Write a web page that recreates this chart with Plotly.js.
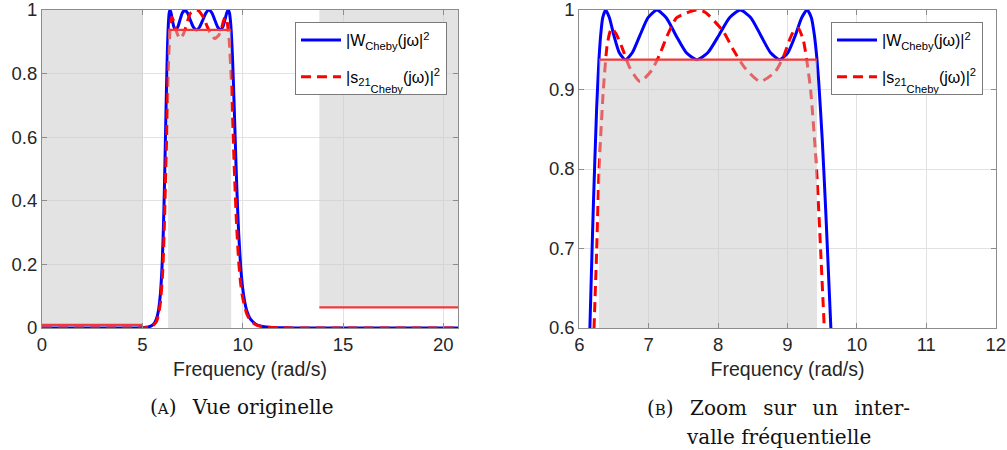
<!DOCTYPE html>
<html>
<head>
<meta charset="utf-8">
<script src="https://cdn.plot.ly/plotly-3.0.1.min.js"></script>
<style>
html,body{margin:0;padding:0;background:#fff;}
#chart{width:1007px;height:450px;}
</style>
</head>
<body>
<div id="chart"></div>
<script>
// ---- data ----
const omegaCheby = [0, 3, 4, 4.5, 5.0, 5.3, 5.5, 5.6, 5.7, 5.8, 5.9, 5.95, 6.0, 6.05, 6.1, 6.15, 6.2, 6.25,
  6.2832, 6.2893, 6.3074, 6.3376, 6.3797, 6.4337, 6.4993, 6.5763, 6.6644, 6.7631, 6.8719, 6.9904,
  7.1176, 7.2528, 7.3950, 7.5429, 7.6953, 7.8508, 8.0079, 8.1648, 8.3199, 8.4713, 8.6173, 8.7561,
  8.8858, 9.0048, 9.1114, 9.2043, 9.2821, 9.3439, 9.3886, 9.4157, 9.4248,
  9.45, 9.5, 9.55, 9.6, 9.65, 9.7, 9.75, 9.8, 9.9, 10.0, 10.1, 10.2, 10.4, 10.7, 11, 11.5, 12, 13, 14, 20.73];
const gainCheby = [0, 0, 0.00001, 0.0001, 0.0007, 0.003, 0.0085, 0.0151, 0.0279, 0.0534, 0.1071, 0.1535, 0.2208, 0.3152, 0.4405, 0.5928, 0.7467, 0.8766,
  0.9375, 0.9462, 0.9677, 0.9903, 1.0, 0.9903, 0.9677, 0.9462, 0.9375, 0.9462, 0.9677, 0.9903,
  1.0, 0.9903, 0.9677, 0.9462, 0.9375, 0.9462, 0.9677, 0.9903, 1.0, 0.9903, 0.9677, 0.9462,
  0.9375, 0.9462, 0.9677, 0.9903, 1.0, 0.9903, 0.9677, 0.9462, 0.9375,
  0.9096, 0.8382, 0.7491, 0.6499, 0.5492, 0.4545, 0.3706, 0.2994, 0.1932, 0.1252, 0.0825, 0.0555, 0.0268, 0.0104, 0.0046, 0.0014, 0.00055, 0.0001, 0, 0];

const omegaS21 = [0, 4, 4.5, 5.0, 5.3, 5.5, 5.7, 5.8, 5.9, 6.0, 6.05, 6.1, 6.15, 6.212, 6.25, 6.284, 6.346,
  6.40, 6.44, 6.467, 6.53, 6.611, 6.73, 6.875, 7.043, 7.163, 7.259, 7.40, 7.595, 7.69, 7.797, 7.859,
  8.075, 8.219, 8.388, 8.604, 8.82, 8.94, 9.036, 9.10, 9.156, 9.228, 9.277, 9.334,
  9.42, 9.478, 9.53, 9.6, 9.7, 9.8, 9.9, 10.0, 10.2, 10.4, 10.7, 11, 11.5, 12, 13, 14, 20.73];
const gainS21 = [0, 0, 0.0001, 0.0005, 0.002, 0.006, 0.02, 0.04, 0.08, 0.16, 0.23, 0.33, 0.45, 0.60, 0.697, 0.798, 0.899,
  0.955, 0.972, 0.977, 0.970, 0.954, 0.927, 0.910, 0.924, 0.945, 0.966, 0.990, 0.998, 1.0, 0.998, 0.994,
  0.973, 0.950, 0.927, 0.910, 0.922, 0.941, 0.964, 0.975, 0.977, 0.962, 0.937, 0.899,
  0.798, 0.697, 0.60, 0.47, 0.32, 0.21, 0.14, 0.095, 0.045, 0.022, 0.009, 0.004, 0.0013, 0.0005, 0.0001, 0, 0];

// specification template
const passbandEdges = [6.2832, 9.4248];
const passbandMin = 0.9375;
const stopLowEdges = [0, 5.03];
const stopLowMax = 0.01;
const stopHighEdges = [13.82, 20.73];
const stopHighMax = 0.065;

// axes
const xRangeA = [0, 20.73];
const yRangeA = [0, 1];
const xTicksA = [0, 5, 10, 15, 20];
const yTicksA = [0, 0.2, 0.4, 0.6, 0.8, 1];
const xRangeB = [6, 12];
const yRangeB = [0.6, 1];
const xTicksB = [6, 7, 8, 9, 10, 11, 12];
const yTicksB = [0.6, 0.7, 0.8, 0.9, 1];

const legendA = ['|W<sub>Cheby</sub>(jω|<sup>2</sup>', '|s<sub>21</sub><sub>Cheby</sub>(jω)|<sup>2</sup>'];
const legendB = ['|W<sub>Cheby</sub>(jω)|<sup>2</sup>', '|s<sub>21</sub><sub>Cheby</sub>(jω)|<sup>2</sup>'];
const axisTitle = 'Frequency (rad/s)';
const captionA = '(<span style="font-size:15px">A</span>)\u2002 Vue originelle';
const captionB1 = '(<span style="font-size:15px">B</span>)\u2002 Zoom\u2002 sur\u2002 un\u2002 inter-';
const captionB2 = 'valle fréquentielle';

// ---- build ----
const BLUE = '#0000ff', RED = '#ff0000', LINE_RED = '#f03a3a';
const GREY = 'rgba(200,200,200,0.5)';

function rect(x, y0, y1) { return {x: [x[0], x[1], x[1], x[0], x[0]], y: [y0, y0, y1, y1, y0]}; }

function tracesFor(xa, ya, legendName, labels, yTop) {
  const t = [];
  t.push({x: omegaCheby, y: gainCheby, xaxis: xa, yaxis: ya, type: 'scatter', mode: 'lines', legendgroup: legendName + 'a',
    line: {color: BLUE, width: 3, shape: 'spline', smoothing: 0.6}, name: labels[0], legend: legendName});
  t.push({x: omegaS21, y: gainS21, xaxis: xa, yaxis: ya, type: 'scatter', mode: 'lines', legendgroup: legendName + 'b',
    line: {color: RED, width: 3, dash: '10px,6px', shape: 'spline', smoothing: 0.6}, name: labels[1], legend: legendName});
  const regions = [rect(stopLowEdges, stopLowMax, yTop), rect(passbandEdges, 0, passbandMin), rect(stopHighEdges, stopHighMax, yTop)];
  regions.forEach(r => t.push({x: r.x, y: r.y, xaxis: xa, yaxis: ya, type: 'scatter', mode: 'lines', fill: 'toself',
    fillcolor: GREY, line: {width: 0}, showlegend: false, hoverinfo: 'skip'}));
  const lims = [[stopLowEdges, stopLowMax], [passbandEdges, passbandMin], [stopHighEdges, stopHighMax]];
  lims.forEach(l => t.push({x: l[0], y: [l[1], l[1]], xaxis: xa, yaxis: ya, type: 'scatter', mode: 'lines',
    line: {color: LINE_RED, width: 2.2}, showlegend: false, hoverinfo: 'skip'}));
  return t;
}

const data = [].concat(tracesFor('x', 'y', 'legend', legendA, 1), tracesFor('x2', 'y2', 'legend2', legendB, 1));

const tickFont = {family: 'Liberation Sans, Arial, sans-serif', size: 18.5, color: '#262626'};
function axis(range, ticks, domain, anchor, isX) {
  const a = {range: range, tickvals: ticks, ticktext: ticks.map(v => String(v)), showgrid: true, gridcolor: '#e2e2e2', gridwidth: 1,
    zeroline: false, showline: true, linecolor: '#8c8c8c', linewidth: 1, mirror: 'ticks', ticks: 'inside', ticklen: 5,
    tickcolor: '#8c8c8c', tickfont: tickFont, anchor: anchor, fixedrange: true, ticklabeloverflow: 'allow'};
  if (domain) a.domain = domain;
  if (isX) a.title = {text: axisTitle, font: {family: 'Liberation Sans, Arial, sans-serif', size: 19.5, color: '#262626'}, standoff: 8};
  return a;
}

const W = 1007;
const legendStyle = {bgcolor: '#fff', bordercolor: '#7a7a7a', borderwidth: 1, xanchor: 'right', yanchor: 'top', y: 0.962,
  font: {family: 'Liberation Sans, Arial, sans-serif', size: 16, color: '#000'}, itemwidth: 40, tracegroupgap: 13};
const layout = {
  width: 1007, height: 450,
  margin: {l: 0, r: 0, t: 10, b: 122.3},
  paper_bgcolor: '#fff', plot_bgcolor: '#fff',
  showlegend: true,
  xaxis: axis(xRangeA, xTicksA, [42 / W, 458 / W], 'y', true),
  yaxis: axis(yRangeA, yTicksA, null, 'x', false),
  xaxis2: axis(xRangeB, xTicksB, [579.3 / W, 995.7 / W], 'y2', true),
  yaxis2: axis(yRangeB, yTicksB, null, 'x2', false),
  legend: Object.assign({x: 447 / W}, legendStyle),
  legend2: Object.assign({x: 983 / W}, legendStyle),
  annotations: [
    {text: captionA, xref: 'paper', yref: 'paper', x: 242 / W, y: (450 - 122.3 - 406.7) / 317.7, xanchor: 'center', yanchor: 'middle', showarrow: false,
      font: {family: 'DejaVu Serif, serif', size: 20, color: '#111'}},
    {text: captionB1, xref: 'paper', yref: 'paper', x: 778 / W, y: (450 - 122.3 - 408) / 317.7, xanchor: 'center', yanchor: 'middle', showarrow: false,
      font: {family: 'DejaVu Serif, serif', size: 20, color: '#111'}},
    {text: captionB2, xref: 'paper', yref: 'paper', x: 778 / W, y: (450 - 122.3 - 436.7) / 317.7, xanchor: 'center', yanchor: 'middle', showarrow: false,
      font: {family: 'DejaVu Serif, serif', size: 20, color: '#111'}}
  ]
};

// second-level subscript ("Cheby" under "21"): shift it lower once Plotly has drawn the legends
function clean(s) { return (s || '').replace(/[\u200b\s]/g, ''); }
function lowerNestedSub() {
  document.querySelectorAll('#chart text').forEach(function (txt) {
    if (clean(txt.textContent).indexOf('s21Cheby') < 0) return;
    const spans = Array.from(txt.querySelectorAll('tspan'));
    let seen21 = false;
    spans.forEach(function (ts) {
      if (ts.querySelector('tspan')) return;
      const s = clean(ts.textContent);
      if (s.indexOf('21') >= 0 && s.indexOf('Cheby') < 0) seen21 = true;
      else if (seen21 && s.indexOf('Cheby') >= 0) {
        if (ts.getAttribute('baseline-shift') !== '-7px') ts.setAttribute('baseline-shift', '-7px');
        ts.style.baselineShift = '-7px';
        seen21 = false;
      }
    });
  });
}

const gd = document.getElementById('chart');
Plotly.newPlot(gd, data, layout, {staticPlot: true, displayModeBar: false}).then(function () {
  lowerNestedSub();
  gd.on('plotly_afterplot', lowerNestedSub);
  setTimeout(lowerNestedSub, 30);
  setTimeout(lowerNestedSub, 200);
  setTimeout(lowerNestedSub, 600);
});
</script>
</body>
</html>
